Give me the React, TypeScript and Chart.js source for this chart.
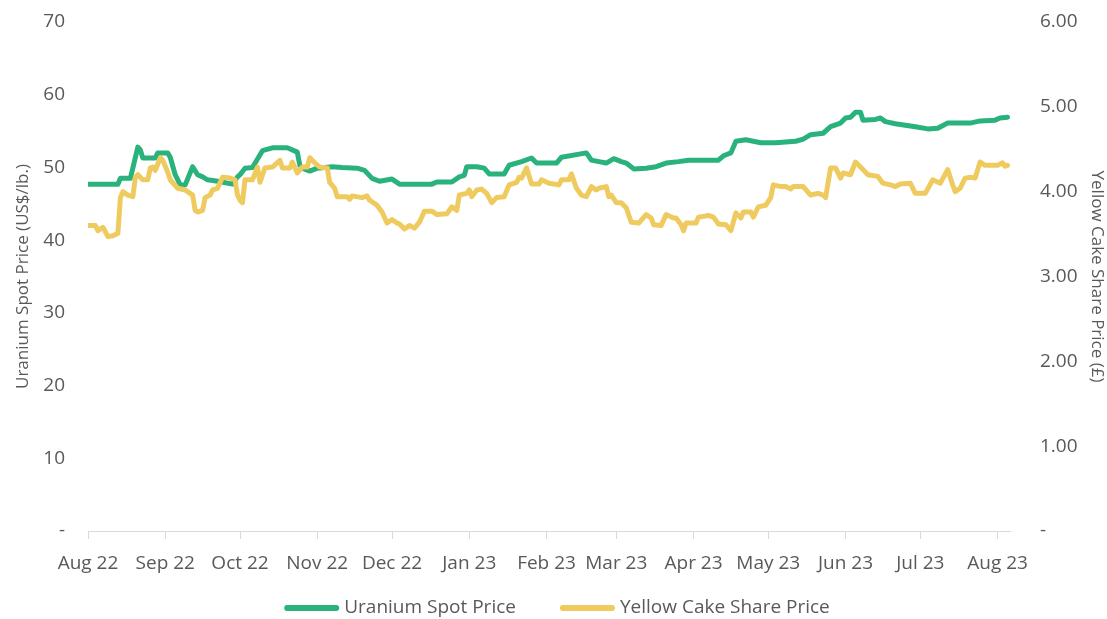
import React, { useEffect, useRef } from "react";
import { Chart, registerables } from "chart.js";

Chart.register(...registerables);

const monthTickDays = [0, 31, 61, 92, 122, 153, 184, 212, 243, 273, 304, 334, 365];
const monthTickLabels = [
  "Aug 22", "Sep 22", "Oct 22", "Nov 22", "Dec 22", "Jan 23", "Feb 23",
  "Mar 23", "Apr 23", "May 23", "Jun 23", "Jul 23", "Aug 23",
];

const seriesNames = ["Uranium Spot Price", "Yellow Cake Share Price"];
const seriesColors = ["#29B27B", "#EFCB5F"];

// days since 1 Aug 2022
const uraniumDays = [
  0, 12, 13, 17, 20, 21, 22, 27, 28, 32, 33, 35, 37, 39, 42, 44, 46, 48, 52, 58,
  60, 61, 63, 66, 70, 74, 80, 84, 85, 86, 89, 92, 98, 102, 108, 111, 114, 117, 122, 125,
  138, 140, 146, 149, 151, 152, 156, 159, 161, 167, 169, 174, 178, 180, 188, 190, 200, 202, 205, 208,
  211, 214, 216, 219, 224, 228, 232, 237, 241, 253, 255, 258, 260, 264, 270, 276, 284, 287, 290, 295,
  298, 302, 304, 306, 308, 310, 311, 316, 318, 320, 324, 328, 332, 337, 341, 345, 354, 358, 364, 366, 369,
];
const uraniumPrice = [
  47.7, 47.7, 48.5, 48.5, 52.8, 52.4, 51.3, 51.3, 52.0, 52.0, 51.4, 49.0, 47.6, 47.6, 50.1, 49.0, 48.7, 48.3, 48.1, 47.7,
  48.7, 49.0, 49.9, 50.0, 52.3, 52.7, 52.7, 52.1, 50.3, 49.9, 49.5, 49.9, 50.1, 50.0, 49.9, 49.6, 48.5, 48.1, 48.4, 47.7,
  47.7, 48.0, 48.0, 48.7, 48.9, 50.1, 50.1, 49.9, 49.1, 49.1, 50.3, 50.8, 51.3, 50.6, 50.6, 51.4, 52.0, 51.0, 50.8, 50.6,
  51.2, 50.8, 50.6, 49.8, 49.9, 50.1, 50.6, 50.8, 51.0, 51.0, 51.6, 52.0, 53.6, 53.8, 53.4, 53.4, 53.6, 53.9, 54.5, 54.7,
  55.6, 56.1, 56.8, 56.9, 57.6, 57.6, 56.5, 56.6, 56.8, 56.3, 56.0, 55.8, 55.6, 55.3, 55.4, 56.1, 56.1, 56.4, 56.5, 56.8, 56.9,
];

const yellowDays = [
  0, 3, 4, 6, 8, 10, 12, 13, 14, 16, 18, 19, 20, 22, 24, 25, 26, 27, 29, 30,
  32, 33, 36, 39, 42, 43, 44, 46, 47, 49, 50, 52, 54, 57, 59, 60, 61, 62, 63, 66,
  68, 69, 71, 74, 77, 78, 81, 82, 84, 86, 88, 89, 91, 93, 96, 97, 99, 100, 104, 105,
  106, 110, 112, 113, 116, 118, 120, 122, 124, 125, 127, 129, 131, 133, 135, 138, 140, 144, 146, 148,
  149, 152, 153, 154, 156, 158, 160, 162, 164, 167, 169, 172, 173, 174, 176, 178, 181, 182, 185, 189,
  190, 193, 194, 196, 198, 200, 202, 204, 205, 208, 209, 210, 212, 214, 216, 218, 221, 224, 226, 227,
  230, 232, 235, 236, 238, 239, 240, 244, 245, 249, 251, 253, 256, 258, 260, 262, 263, 266, 267, 269,
  272, 274, 275, 278, 280, 282, 283, 287, 290, 293, 295, 296, 298, 300, 302, 303, 306, 308, 311, 313,
  317, 319, 322, 324, 326, 330, 332, 336, 339, 342, 345, 347, 348, 350, 352, 354, 356, 358, 360, 365,
  367, 368, 369,
];
const yellowPrice = [
  3.60, 3.60, 3.54, 3.58, 3.47, 3.48, 3.51, 3.93, 4.00, 3.96, 3.94, 4.17, 4.20, 4.14, 4.14, 4.28, 4.29, 4.25, 4.40, 4.37,
  4.23, 4.14, 4.04, 4.02, 3.96, 3.78, 3.76, 3.78, 3.93, 3.96, 4.02, 4.04, 4.17, 4.16, 4.14, 3.96, 3.90, 3.87, 4.14, 4.14,
  4.29, 4.11, 4.28, 4.29, 4.37, 4.28, 4.28, 4.35, 4.22, 4.29, 4.29, 4.40, 4.34, 4.29, 4.28, 4.11, 4.04, 3.94, 3.94, 3.91,
  3.95, 3.93, 3.95, 3.90, 3.84, 3.76, 3.63, 3.67, 3.63, 3.62, 3.56, 3.60, 3.57, 3.64, 3.77, 3.77, 3.73, 3.74, 3.82, 3.78,
  3.96, 3.98, 4.02, 3.94, 4.02, 4.03, 3.98, 3.87, 3.93, 3.94, 4.08, 4.11, 4.17, 4.16, 4.28, 4.09, 4.09, 4.14, 4.10, 4.08,
  4.14, 4.14, 4.21, 4.04, 3.96, 3.94, 4.06, 4.02, 4.04, 4.06, 3.94, 3.96, 3.87, 3.87, 3.81, 3.64, 3.63, 3.73, 3.69, 3.61,
  3.60, 3.73, 3.69, 3.69, 3.61, 3.54, 3.63, 3.63, 3.70, 3.72, 3.70, 3.62, 3.61, 3.54, 3.75, 3.69, 3.76, 3.76, 3.70, 3.82,
  3.84, 3.93, 4.08, 4.06, 4.06, 4.03, 4.06, 4.06, 3.96, 3.98, 3.96, 3.93, 4.28, 4.28, 4.16, 4.22, 4.20, 4.35, 4.26, 4.20,
  4.18, 4.10, 4.08, 4.06, 4.09, 4.10, 3.98, 3.98, 4.14, 4.10, 4.26, 4.08, 4.00, 4.04, 4.16, 4.17, 4.16, 4.35, 4.31, 4.31,
  4.34, 4.30, 4.31,
];

const FONT = '"Open Sans", sans-serif';
const TEXT = "#595959";

const legendPlugin = {
  id: "lineLegend",
  afterDraw(chart: any) {
    const ctx = chart.ctx;
    ctx.save();
    ctx.font = `19px ${FONT}`;
    const lineLen = 55;
    const gap = 5;
    const itemGap = 44;
    const items = chart.data.datasets.map((d: any) => ({
      text: d.label,
      color: d.borderColor,
      w: ctx.measureText(d.label).width,
    }));
    const total =
      items.reduce((s: number, it: any) => s + lineLen + gap + it.w, 0) +
      itemGap * (items.length - 1);
    let x = 557 - total / 2;
    const y = 608;
    items.forEach((it: any) => {
      ctx.strokeStyle = it.color;
      ctx.lineWidth = 6;
      ctx.lineCap = "round";
      ctx.beginPath();
      ctx.moveTo(x + 3, y);
      ctx.lineTo(x + lineLen - 3, y);
      ctx.stroke();
      ctx.fillStyle = TEXT;
      ctx.textBaseline = "middle";
      ctx.textAlign = "left";
      ctx.fillText(it.text, x + lineLen + gap, y);
      x += lineLen + gap + it.w + itemGap;
    });
    ctx.restore();
  },
};

export default function App() {
  const ref = useRef<HTMLCanvasElement | null>(null);

  useEffect(() => {
    document.body.style.margin = "0";
    if (!ref.current) return;
    const chart = new Chart(ref.current, {
      type: "line",
      data: {
        datasets: [
          {
            label: seriesNames[0],
            data: uraniumDays.map((d, i) => ({ x: d, y: uraniumPrice[i] })),
            borderColor: seriesColors[0],
            backgroundColor: seriesColors[0],
            borderWidth: 5,
            pointRadius: 0,
            tension: 0,
            borderJoinStyle: "round",
            borderCapStyle: "round",
            yAxisID: "y",
            order: 1,
          },
          {
            label: seriesNames[1],
            data: yellowDays.map((d, i) => ({ x: d, y: yellowPrice[i] })),
            borderColor: seriesColors[1],
            backgroundColor: seriesColors[1],
            borderWidth: 5,
            pointRadius: 0,
            tension: 0,
            borderJoinStyle: "round",
            borderCapStyle: "round",
            yAxisID: "y1",
            order: 0,
          },
        ],
      },
      options: {
        responsive: false,
        animation: false,
        layout: { padding: { top: 22, left: 0, right: 0, bottom: 0 } },
        plugins: {
          legend: { display: false },
          title: { display: false },
          tooltip: { enabled: false },
        },
        scales: {
          x: {
            type: "linear",
            min: 0,
            max: 370,
            afterBuildTicks: (scale: any) => {
              scale.ticks = monthTickDays.map((v) => ({ value: v }));
            },
            afterFit: (scale: any) => {
              scale.height = 88;
              scale.paddingTop = 0;
              scale.paddingBottom = 0;
            },
            ticks: {
              autoSkip: false,
              maxRotation: 0,
              padding: 13,
              color: TEXT,
              font: { family: FONT, size: 19 },
              callback: (_v: any, i: number) => monthTickLabels[i],
            },
            grid: {
              display: true,
              drawOnChartArea: false,
              drawTicks: true,
              tickLength: 8,
              color: "#D9D9D9",
            },
            border: { display: true, color: "#D9D9D9", width: 1 },
          },
          y: {
            position: "left",
            min: 0,
            max: 70,
            afterFit: (scale: any) => {
              scale.width = 88;
              scale.paddingTop = 0;
              scale.paddingBottom = 0;
            },
            ticks: {
              stepSize: 10,
              padding: 23,
              color: TEXT,
              font: { family: FONT, size: 19 },
              callback: (v: any) => (v === 0 ? "-" : String(v)),
            },
            grid: { display: false, drawTicks: false },
            border: { display: false },
            title: {
              display: true,
              text: "Uranium Spot Price (US$/lb.)",
              color: TEXT,
              font: { family: FONT, size: 17 },
              padding: { top: 13, bottom: 0 },
            },
          },
          y1: {
            position: "right",
            min: 0,
            max: 6,
            afterFit: (scale: any) => {
              scale.width = 97;
              scale.paddingTop = 0;
              scale.paddingBottom = 0;
            },
            ticks: {
              stepSize: 1,
              padding: 30,
              color: TEXT,
              font: { family: FONT, size: 19 },
              callback: (v: any) => (v === 0 ? "-" : Number(v).toFixed(2)),
            },
            grid: { display: false, drawTicks: false },
            border: { display: false },
            title: {
              display: true,
              text: "Yellow Cake Share Price (£)",
              color: TEXT,
              font: { family: FONT, size: 17 },
              padding: { top: 0, bottom: 0 },
            },
          },
        },
      },
      plugins: [legendPlugin],
    });
    return () => chart.destroy();
  }, []);

  return (
    <div style={{ position: "absolute", left: 0, top: 0, width: 1107, height: 619 }}>
      <canvas ref={ref} width={1107} height={619} />
    </div>
  );
}
